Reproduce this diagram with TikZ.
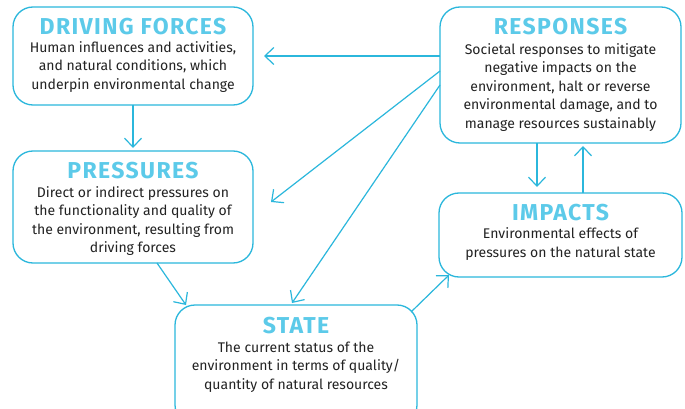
\documentclass[tikz,border=0pt]{standalone}
\usepackage{fontspec}
\setmainfont{Fira Sans}
\newfontfamily\titlefont[LetterSpace=6]{Fira Sans}
\usetikzlibrary{arrows.meta,calc}
\definecolor{linecol}{HTML}{2BB7DC}
\definecolor{titlecol}{HTML}{5CCAE9}
\definecolor{txtcol}{HTML}{222222}
\begin{document}
\begin{tikzpicture}[x=1pt,y=-1pt,
  box/.style={draw=linecol,line width=1.3pt,rounded corners=20pt,inner sep=0pt,outer sep=0pt},
  title/.style={text=titlecol,font=\titlefont\fontsize{23}{23}\selectfont\bfseries,inner sep=0pt},
  body/.style={text=txtcol,align=center,font=\fontsize{14}{18.5}\selectfont,inner sep=0pt},
  conn/.style={draw=linecol,line width=1.2pt,-{Straight Barb[length=9pt,width=17pt]}}]
\fill[white] (0,0) rectangle (685,409);
\useasboundingbox (0,0) rectangle (685,409);
\clip (0,0) rectangle (685,409);
% boxes
\node[box,minimum width=240pt,minimum height=98pt] (drive) at (133,56) {};
\node[box,minimum width=241pt,minimum height=136pt] (resp) at (560.5,75) {};
\node[box,minimum width=240pt,minimum height=112pt] (press) at (133,207) {};
\node[box,minimum width=243pt,minimum height=84pt] (impact) at (560.5,235) {};
\node[box,minimum width=242pt,minimum height=120pt] (state) at (296,365) {};
% titles and texts
\node[title] (drivet) at (133,27) {DRIVING FORCES};
\node[body] (driveb) at (133,67) {Human influences and activities,\\and natural conditions, which\\underpin environmental change};
\node[title] (respt) at (560.5,27) {RESPONSES};
\node[body] (respb) at (560.5,87.5) {Societal responses to mitigate\\negative impacts on the\\environment, halt or reverse\\environmental damage, and to\\manage resources sustainably};
\node[title] (presst) at (133,171) {PRESSURES};
\node[body] (pressb) at (133,221) {Direct or indirect pressures on\\the functionality and quality of\\the environment, resulting from\\driving forces};
\node[title] (impactt) at (560.5,213) {IMPACTS};
\node[body] (impactb) at (560.5,244) {Environmental effects of\\pressures on the natural state};
\node[title] (statet) at (296,326) {STATE};
\node[body] (stateb) at (296,367) {The current status of the\\environment in terms of quality/\\quantity of natural resources};
% connectors
\draw[conn] ($(resp.west)+(0,-19)$) -- ($(drive.east)+(11,0)$);
\draw[conn] ($(resp.west)+(0,-4)$) -- ($(press.east)+(18,-5)$);
\draw[conn] ($(resp.west)+(0,10)$) -- ($(state.north)+(-4,-2)$);
\draw[conn] (drive.south) -- ($(press.north)+(0,-3)$);
\draw[conn] ($(press.south)+(24,0)$) -- ($(state.north)+(-110,0)$);
\draw[conn] ($(state.north east)+(-6,7)$) -- ($(impact.south west)+(10,-2)$);
\draw[conn] ($(resp.south)+(-23.5,0)$) -- ($(impact.north)+(-23.5,-6)$);
\draw[conn] ($(impact.north)+(22.5,0)$) -- ($(resp.south)+(22.5,3)$);
\end{tikzpicture}
\end{document}
